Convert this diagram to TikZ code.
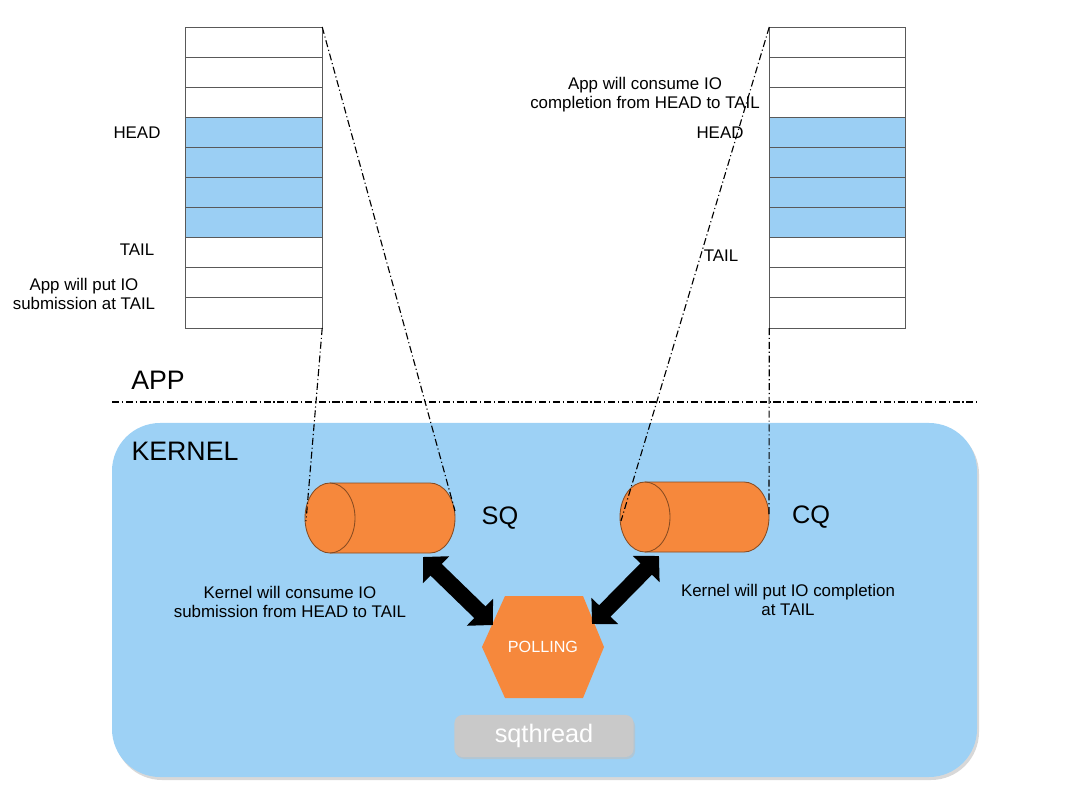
\documentclass[tikz,border=0pt]{standalone}
\usepackage{fontspec}
\setmainfont{Liberation Sans}
\usetikzlibrary{arrows.meta}
\definecolor{kblue}{HTML}{9DD1F5}
\definecolor{qblue}{HTML}{9BCFF4}
\definecolor{korange}{HTML}{F6883C}
\definecolor{kgray}{HTML}{C9C9C9}
\begin{document}
\begin{tikzpicture}[x=0.025cm,y=-0.025cm,
  cell/.style={draw=black!65, line width=0.6pt, minimum width=3.41cm, minimum height=0.7525cm, inner sep=0pt, outer sep=0pt},
  bluecell/.style={cell, fill=qblue},
  lbl/.style={font=\fontsize{12}{13.5}\selectfont, align=center, inner sep=0pt},
  big/.style={font=\fontsize{19}{22}\selectfont, inner sep=0pt},
  qname/.style={font=\fontsize{18}{20}\selectfont, inner sep=0pt},
  ddash/.style={line width=0.8pt, dash pattern=on 5pt off 2pt on 0.8pt off 2pt},
  cyl/.style={fill=korange, draw=black!45!korange, line width=0.6pt},
  cyledge/.style={draw=black!45!korange, line width=0.6pt},
  fat/.style={line width=11.5pt, arrows={Triangle[width=26pt,length=13pt]-Triangle[width=26pt,length=13pt]}}
]
\useasboundingbox (0,0) rectangle (1080,807);

% queues
\foreach \i in {1,...,10}{
  \pgfmathsetmacro{\yy}{27+30.1*(\i-0.5)}
  \ifnum\i<4 \def\st{cell}\else\ifnum\i>7 \def\st{cell}\else\def\st{bluecell}\fi\fi
  \node[\st] (L\i) at (254,\yy) {};
  \node[\st] (R\i) at (837.5,\yy) {};
}

% labels on top
\node[lbl] (lhead) at (137,133) {HEAD};
\node[lbl] (ltail) at (137,250) {TAIL};
\node[lbl] (lapp) at (84,294) {App will put IO\\submission at TAIL};
\node[lbl] (rapp) at (645,95) {App will consume IO\\completion from HEAD to TAIL};
\node[lbl] (rhead) at (720,133) {HEAD};
\node[lbl] (rtail) at (721,256) {TAIL};

% APP / KERNEL separator
\node[big] (app) at (158,380) {APP};
\coordinate (sepL) at (112,402);
\coordinate (sepR) at (977,402);

% kernel box
\fill[black!30, opacity=0.5, rounded corners=1.2cm] (114,426) rectangle (979,780);
\fill[kblue, rounded corners=1.2cm] (112,423) rectangle (977,777);
\draw[ddash] (sepL) -- (sepR);
\node[big] (kernel) at (185,451) {KERNEL};

% SQ cylinder
\draw[cyl] (330,483) -- (430,483) arc[start angle=-90,end angle=90,x radius=25,y radius=35] -- (330,553) arc[start angle=90,end angle=270,x radius=25,y radius=35] -- cycle;
\draw[cyledge] (330,483) arc[start angle=-90,end angle=90,x radius=25,y radius=35];
\coordinate (sqL) at (306,521);
\coordinate (sqR) at (455,511);
\coordinate (sqA) at (423,557);
\node[qname] (sq) at (500,518) {SQ};

% CQ cylinder
\draw[cyl] (645,482) -- (744,482) arc[start angle=-90,end angle=90,x radius=25,y radius=35] -- (645,552) arc[start angle=90,end angle=270,x radius=25,y radius=35] -- cycle;
\draw[cyledge] (645,482) arc[start angle=-90,end angle=90,x radius=25,y radius=35];
\coordinate (cqL) at (621,521);
\coordinate (cqR) at (769,515);
\coordinate (cqA) at (659,556);
\node[qname] (cq) at (811,517) {CQ};

% dash-dot projections
\draw[ddash] (L1.north east) -- (sqR);
\draw[ddash] (L10.south east) -- (sqL);
\draw[ddash] (R1.north west) -- (cqL);
\draw[ddash] (R10.south west) -- (cqR);

% kernel texts
\node[lbl] (ksq) at (290,602) {Kernel will consume IO\\submission from HEAD to TAIL};
\node[lbl] (kcq) at (788,600) {Kernel will put IO completion\\at TAIL};

% polling hexagon
\fill[korange] (505,596) -- (583,596) -- (604,647) -- (583,698) -- (505,698) -- (482,647) -- cycle;
\node[font=\fontsize{11.5}{13}\selectfont, text=white, inner sep=0pt] (poll) at (543,647) {POLLING};
\coordinate (pA1) at (493,625);
\coordinate (pA2) at (592,624);

% arrows
\draw[fat] (sqA) -- (pA1);
\draw[fat] (cqA) -- (pA2);

% sqthread
\fill[black!25, opacity=0.6, rounded corners=0.2cm] (456,718) rectangle (635,759);
\node[fill=kgray, rounded corners=0.2cm, minimum width=4.475cm, minimum height=1.05cm, text=white, font=\fontsize{18}{20}\selectfont, inner sep=0pt] (sqt) at (544,736) {sqthread};
\end{tikzpicture}
\end{document}
